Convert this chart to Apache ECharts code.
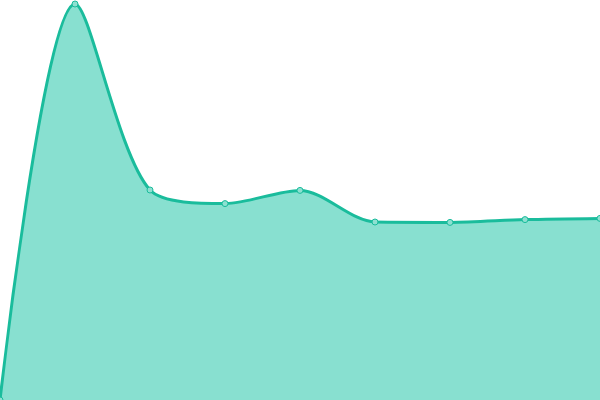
<!DOCTYPE html>
<html>
<head>
<meta charset="utf-8">
<script src="https://cdn.jsdelivr.net/npm/echarts@6/dist/echarts.min.js"></script>
<style>html,body{margin:0;padding:0;background:#fff}#c{width:600px;height:400px}</style>
</head>
<body>
<div id="c"></div>
<script>
var categories = ['1','2','3','4','5','6','7','8','9'];
var values = [0, 99, 52.5, 49.1, 52.4, 44.5, 44.4, 45.1, 45.4];
var chart = echarts.init(document.getElementById('c'));
chart.setOption({
  animation: false,
  grid: {left: 0, right: 0, top: 0, bottom: 0},
  xAxis: {type: 'category', data: categories, boundaryGap: false, show: false},
  yAxis: {type: 'value', min: 0, max: 100, show: false},
  series: [{
    type: 'line',
    data: values,
    smooth: 0.3,
    symbol: 'circle',
    symbolSize: 6,
    lineStyle: {color: '#1abc9c', width: 3},
    itemStyle: {color: '#8ee0d1', borderColor: '#1abc9c', borderWidth: 1},
    areaStyle: {color: '#88e0d0', opacity: 1}
  }]
});
</script>
</body>
</html>
